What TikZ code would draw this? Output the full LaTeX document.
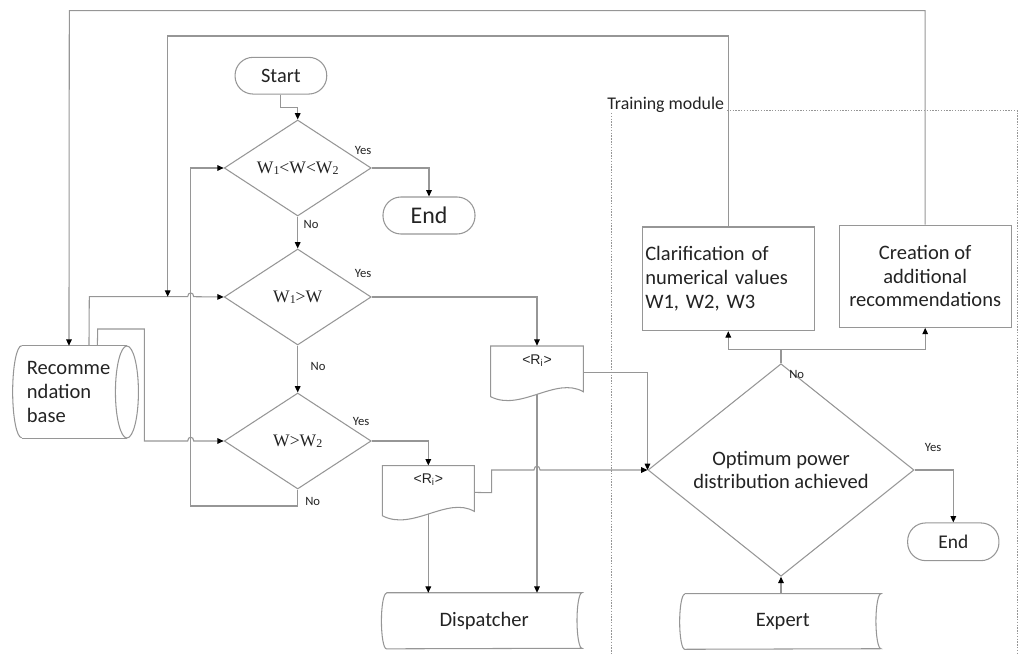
\documentclass[tikz,border=0pt]{standalone}
\usepackage{fontspec}
\setmainfont{Carlito}
\newfontfamily\tnr{Liberation Serif}
\newfontfamily\ari{Liberation Sans}
\usetikzlibrary{arrows.meta,shapes.geometric,calc}
\newlength{\unitpx}\setlength{\unitpx}{0.025cm}
\definecolor{ln}{RGB}{150,150,150}
\definecolor{tx}{RGB}{35,35,35}
\newcommand{\dg}[1]{\raisebox{-0.6pt}{\fontsize{8.5}{8.5}\selectfont #1}}
\begin{document}
\begin{tikzpicture}[x=0.025cm,y=-0.025cm,
  every node/.style={text=tx, inner sep=0pt},
  conn/.style={draw=ln, line width=0.75pt},
  arr/.style={conn, -{Triangle[length=4.5pt,width=4pt,color=black]}},
  outline/.style={draw=ln, line width=0.75pt},
  term/.style={outline, rectangle, rounded corners=18\unitpx, minimum width=92\unitpx, minimum height=37\unitpx, font=\fontsize{14.5}{17}\selectfont},
  dec/.style={outline, diamond, minimum width=147\unitpx, minimum height=96\unitpx, font=\tnr\fontsize{12.5}{14}\selectfont},
  yn/.style={font=\fontsize{9}{10}\selectfont},
  body/.style={font=\fontsize{14.6}{16.9}\selectfont},
  ritext/.style={font=\ari\fontsize{10}{12}\selectfont},
  dotline/.style={draw=ln, line width=0.5pt, dash pattern=on 1pt off 1pt},
]
\useasboundingbox (0,0) rectangle (1020,655);

% ---- nodes ----
\node[term, minimum width=91.7\unitpx, minimum height=36.7\unitpx] (start) at (280.9,75.7) {Start};
\node[dec] (d1) at (297.7,168) {W\dg{1}<W<W\dg{2}};
\node[term, font=\fontsize{17}{20}\selectfont] (end1) at (429,215.5) {End};
\node[dec] (d2) at (297.7,297) {W\dg{1}>W};
\node[dec] (d3) at (297.7,441) {W>W\dg{2}};

\node[font=\fontsize{14.6}{17}\selectfont, minimum width=104.7\unitpx, minimum height=92\unitpx, align=left, text width=94.7\unitpx] (rb) at (74.3,392) {Recomme\\ndation\\base};
\draw[outline] (rb.north west) -- (rb.north east) (rb.south west) -- (rb.south east);
\draw[outline] (rb.north west) arc[start angle=90,end angle=270,x radius=9\unitpx,y radius=46\unitpx];
\draw[outline] (rb.east) ellipse[x radius=11.5\unitpx, y radius=46\unitpx];

\node[minimum width=92.6\unitpx, minimum height=50.7\unitpx] (doc1) at (537,371.35) {};
\node[ritext] (doc1t) at (537,360.7) {<R\textsubscript{i}>};
\draw[outline] (490.7,346) -- (583.3,346) -- (583.3,391.7) .. controls (555.7,376) and (520.7,412) .. (490.7,396.7) -- cycle;

\node[minimum width=92\unitpx, minimum height=50\unitpx] (doc2) at (428.3,490.7) {};
\node[ritext] (doc2t) at (428.3,480) {<R\textsubscript{i}>};
\draw[outline] (382.3,465.7) -- (474.3,465.7) -- (474.3,511.4) .. controls (447.3,495.7) and (412.3,531.7) .. (382.3,515.7) -- cycle;

\node[body, minimum width=195\unitpx, minimum height=55.5\unitpx] (disp) at (484.2,620.8) {Dispatcher};
\draw[outline] (disp.north west) -- (disp.north east) arc[start angle=90,end angle=270,x radius=5\unitpx,y radius=27.75\unitpx] -- (disp.south west) arc[start angle=270,end angle=90,x radius=5\unitpx,y radius=27.75\unitpx];

\node[body, minimum width=195.7\unitpx, minimum height=55\unitpx] (exp) at (782.8,621.5) {Expert};
\draw[outline] (exp.north west) -- (exp.north east) arc[start angle=90,end angle=270,x radius=5\unitpx,y radius=27.5\unitpx] -- (exp.south west) arc[start angle=270,end angle=90,x radius=5\unitpx,y radius=27.5\unitpx];

\node[outline, body, minimum width=172\unitpx, minimum height=103.7\unitpx, text width=166\unitpx, inner xsep=3\unitpx, align=left] (clar) at (728.3,278.85) {Clarification of\\numerical values\\W1, W2, W3};
\node[outline, body, minimum width=171.7\unitpx, minimum height=102.3\unitpx, align=center] (crea) at (925.2,276.2) {Creation of\\additional\\recommendations};

\node[outline, diamond, font=\fontsize{14.6}{16.1}\selectfont, minimum width=266\unitpx, minimum height=173.4\unitpx, align=center] (opt) at (781,470) {Optimum power\\distribution achieved};
\node[term, font=\fontsize{13.8}{16}\selectfont, minimum width=91.3\unitpx, minimum height=37.7\unitpx] (end2) at (953.3,541.8) {End};

\node[font=\fontsize{12.7}{14}\selectfont, anchor=base west] (tm) at (607,110) {Training module};
\draw[dotline] (727,110.7) -- (1017.5,110.7) -- (1017.5,655);
\draw[dotline] (611.7,113) -- (611.7,655);

% ---- labels ----
\node[yn] (y1) at (363,150) {Yes};
\node[yn] (n1) at (311,224) {No};
\node[yn] (y2) at (363,273) {Yes};
\node[yn] (n2) at (318,366) {No};
\node[yn] (y3) at (361,421) {Yes};
\node[yn] (n3) at (312.7,501) {No};
\node[yn] (n4) at (796.7,374) {No};
\node[yn] (y4) at (933,447) {Yes};

% ---- connectors ----
\draw[arr] (start.south) -- (280.9,107.7) -| (d1.north);
\draw[arr] (d1.east) -| (end1.north);
\draw[arr] (d1.south) -- (d2.north);
\draw[arr] (d2.south) -- (d3.north);
\draw[arr] (d2.east) -| (doc1.north);
\draw[arr] (d3.east) -| (doc2.north);
\draw[arr] (d3.south) -- (297.7,506) -- (190.7,506) -- (190.7,168) -- (d1.west);
\draw[arr] ($(rb.north west)+(67.3,0)$) -- (89.3,296.7) -- (187.7,296.7) .. controls (187.7,291.7) and (193.7,291.7) .. (193.7,296.7) -- (d2.west);
\draw[arr] ($(rb.north west)+(75.7,0)$) -- (97.7,329) -- (144.3,329) -- (144.3,441) -- (187.7,441) .. controls (187.7,436) and (193.7,436) .. (193.7,441) -- (d3.west);
\coordinate (m2) at (167.7,296.7);
\draw[arr] (clar.north) -- (728.3,36) -- (167.7,36) -- (m2);
\draw[arr] (crea.north) -- (925.2,10.7) -- (69.3,10.7) -- ($(rb.north west)+(47.3,0)$);
\draw[arr] ($(doc1.north east)+(0,27)$) -| (opt.west);
\draw[arr] ($(doc2.north east)+(0,27)$) -- (491.7,492.7) -- (491.7,470) -- (534,470) .. controls (534,465) and (540,465) .. (540,470) -- (opt.west);
\draw[arr] ($(doc1.south)+(0,-3)$) -- (doc1.south |- disp.north);
\draw[arr] ($(doc2.south)+(0,-2)$) -- (doc2.south |- disp.north);
\coordinate (br) at (781,349.3);
\draw[arr] (opt.north) -- (br) -| (clar.south);
\draw[arr] (br) -| (crea.south);
\draw[arr] (opt.east) -| (end2.north);
\draw[arr] (opt.south |- exp.north) -- (opt.south);
\end{tikzpicture}
\end{document}
